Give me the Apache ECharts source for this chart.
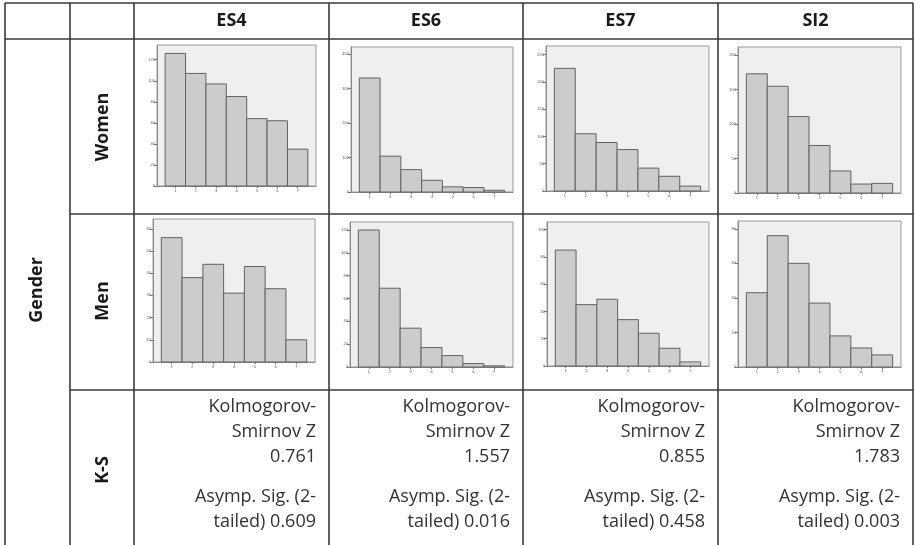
<!DOCTYPE html>
<html>
<head>
<meta charset="utf-8">
<script src="https://cdn.jsdelivr.net/npm/echarts@6/dist/echarts.min.js"></script>
<style>
    body { margin: 0; background: #fff; }
    #main { width: 914px; height: 545px; }
</style>
</head>
<body>
<div id="main"></div>
<script>
// column / row names
var items = ['ES4', 'ES6', 'ES7', 'SI2'];
var groups = ['Women', 'Men'];
var categories = [1, 2, 3, 4, 5, 6, 7];

// histogram counts
var es4Women = [126, 107, 97, 85, 64, 62, 35];
var es6Women = [331, 104, 65, 34, 15, 13, 5];
var es7Women = [225, 105, 89, 76, 42, 27, 9];
var si2Women = [173, 155, 111, 69, 32, 13, 14];
var es4Men = [56, 38, 44, 31, 43, 33, 10];
var es6Men = [120, 69, 34, 17, 10, 3, 1];
var es7Men = [85, 45, 49, 34, 24, 13, 3];
var si2Men = [43, 76, 60, 37, 18, 11, 7];

// y tick labels per chart
var womenTicks = [
    [0, 20, 40, 60, 80, 100, 120],
    [0, 100, 200, 300, 400],
    [0, 50, 100, 150, 200, 250],
    [0, 50, 100, 150, 200]
];
var menTicks = [
    [0, 10, 20, 30, 40, 50, 60],
    [0, 20, 40, 60, 80, 100, 120],
    [0, 20, 40, 60, 80, 100],
    [0, 20, 40, 60, 80]
];
var womenTop = [134, 421, 266, 212];
var menTop = [64.4, 127, 105.6, 84.5];

// K-S test results
var ksZ = ['0.761', '1.557', '0.855', '1.783'];
var ksSig = ['0.609', '0.016', '0.458', '0.003'];

// layout (pixels): plot boxes [left, top, right, bottom]
var boxes = [
    [157, 45, 316, 186], [351, 47, 513, 192], [546, 46, 709, 191], [738, 47, 901, 193],
    [153, 219, 315, 362], [350, 222, 513, 367], [547, 222, 709, 366], [738, 221, 901, 367]
];
var colX = [5, 70, 134, 329, 523, 718, 913];
var rowY = [3, 39, 214, 390];

function render() {
    var myChart = echarts.init(document.getElementById('main'));
    var series = [[es4Women, es6Women, es7Women, si2Women], [es4Men, es6Men, es7Men, si2Men]];
    var ticks = [womenTicks, menTicks];
    var tops = [womenTop, menTop];

    var grids = [], xAxes = [], yAxes = [], ser = [];
    for (var r = 0; r < 2; r++) {
        for (var c = 0; c < 4; c++) {
            var i = r * 4 + c;
            var b = boxes[i];
            grids.push({
                left: b[0], top: b[1], width: b[2] - b[0], height: b[3] - b[1],
                show: true, backgroundColor: '#efefef', borderColor: '#9a9a9a', borderWidth: 1
            });
            xAxes.push({
                type: 'value', gridIndex: i, min: 0.1, max: 7.9,
                axisLine: {show: true, lineStyle: {color: '#8a8a8a', width: 1}},
                axisTick: {show: true, customValues: categories, length: 2, lineStyle: {color: '#777'}},
                axisLabel: {customValues: categories, fontSize: 4, color: '#555', margin: 3},
                splitLine: {show: false}
            });
            yAxes.push({
                type: 'value', gridIndex: i, min: 0, max: tops[r][c],
                axisLine: {show: true, lineStyle: {color: '#8a8a8a', width: 1}},
                axisTick: {show: true, customValues: ticks[r][c], length: 3, lineStyle: {color: '#777'}},
                axisLabel: {customValues: ticks[r][c], fontSize: 4, color: '#555', margin: 2},
                splitLine: {show: false}
            });
            var data = [];
            for (var k = 0; k < categories.length; k++) {
                data.push([categories[k], series[r][c][k]]);
            }
            ser.push({
                type: 'custom', xAxisIndex: i, yAxisIndex: i, data: data, silent: true,
                renderItem: function (params, api) {
                    var x = api.value(0), y = api.value(1);
                    var p0 = api.coord([x - 0.5, y]);
                    var p1 = api.coord([x + 0.5, 0]);
                    return {
                        type: 'rect',
                        shape: {x: p0[0], y: p0[1], width: p1[0] - p0[0], height: p1[1] - p0[1]},
                        style: {fill: '#cccccc', stroke: '#626262', lineWidth: 1}
                    };
                }
            });
        }
    }

    // table lines and texts
    var g = [];
    var lineStyle = {stroke: '#3a3a3a', lineWidth: 1.6};
    function hline(x1, x2, y) {
        g.push({type: 'line', shape: {x1: x1, y1: y, x2: x2, y2: y}, style: lineStyle});
    }
    function vline(x, y1, y2) {
        g.push({type: 'line', shape: {x1: x, y1: y1, x2: x, y2: y2}, style: lineStyle});
    }
    hline(colX[0], colX[6], rowY[0]);
    hline(colX[0], colX[6], rowY[1]);
    hline(colX[1], colX[6], rowY[2]);
    hline(colX[1], colX[6], rowY[3]);
    for (var j = 0; j < colX.length; j++) vline(colX[j], rowY[0], 545);

    var font = '"Open Sans", "Noto Sans", sans-serif';
    for (var c = 0; c < 4; c++) {
        g.push({
            type: 'text', x: (colX[c + 2] + colX[c + 3]) / 2, y: 21,
            style: {text: items[c], font: 'bold 18px ' + font, fill: '#1a1a1a', align: 'center', verticalAlign: 'middle'}
        });
        var rx = colX[c + 3] - 13;
        var lines = ['Kolmogorov-', 'Smirnov Z', ksZ[c], 'Asymp. Sig. (2-', 'tailed) ' + ksSig[c]];
        var ly = [407, 432, 457, 497, 522];
        for (var m = 0; m < lines.length; m++) {
            g.push({
                type: 'text', x: rx, y: ly[m],
                style: {text: lines[m], font: '18px ' + font, fill: '#333', align: 'right', verticalAlign: 'middle'}
            });
        }
    }
    var rowLabels = [[groups[0], 127], [groups[1], 301], ['K-S', 470]];
    for (var n = 0; n < rowLabels.length; n++) {
        g.push({
            type: 'text', x: 103, y: rowLabels[n][1], rotation: Math.PI / 2,
            style: {text: rowLabels[n][0], font: 'bold 18px ' + font, fill: '#1a1a1a', align: 'center', verticalAlign: 'middle'}
        });
    }
    g.push({
        type: 'text', x: 37, y: 290, rotation: Math.PI / 2,
        style: {text: 'Gender', font: 'bold 18px ' + font, fill: '#1a1a1a', align: 'center', verticalAlign: 'middle'}
    });

    var option = {
        animation: false,
        grid: grids,
        xAxis: xAxes,
        yAxis: yAxes,
        series: ser,
        graphic: g
    };
    myChart.setOption(option);
}

render();
</script>
</body>
</html>
